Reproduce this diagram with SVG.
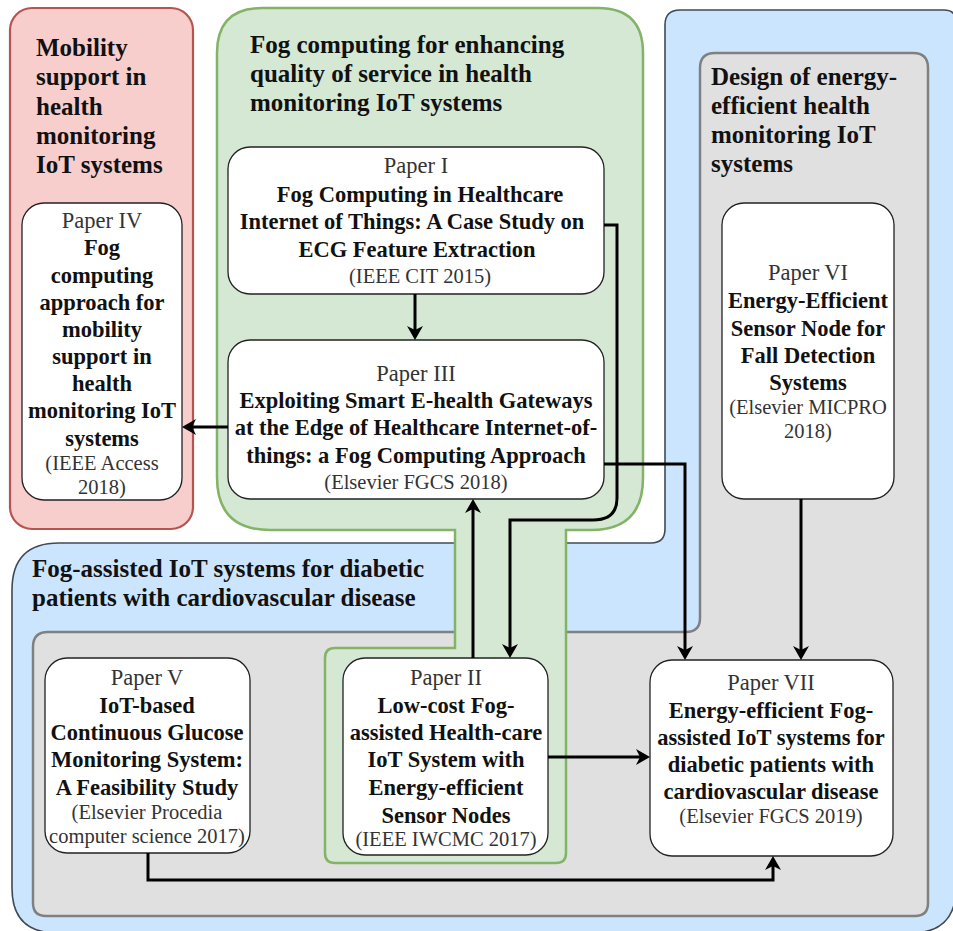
<svg xmlns="http://www.w3.org/2000/svg" width="953" height="931" viewBox="0 0 953 931">
  <style>
    text { font-family: "Liberation Serif", "Times New Roman", serif; }
    .title { font-size: 25px; font-weight: bold; fill: #111; }
    .node rect { fill: #ffffff; stroke: #222; stroke-width: 1.3; }
    .node text { text-anchor: middle; }
    .lbl { font-size: 22.5px; fill: #333; }
    .bt { font-size: 22.5px; font-weight: bold; fill: #111; }
    .cite { font-size: 20.5px; fill: #333; }
    .edge { fill: none; stroke: #000; stroke-width: 3; marker-end: url(#arrow); }
  </style>
  <defs>
    <marker id="arrow" markerUnits="userSpaceOnUse" viewBox="0 0 14 16" refX="4" refY="8" markerWidth="14" markerHeight="16" orient="auto">
      <path d="M0,0 L14,8 L0,16 L4,8 Z" fill="#000"/>
    </marker>
  </defs>

  <!-- background -->
  <rect width="953" height="931" fill="#ffffff"/>

  <!-- groups (regions) -->
  <g id="region-diabetic">
    <path d="M 680,10 H 944 Q 956,10 956,22 V 888 Q 956,933 911,933 H 57 Q 12,933 12,888 V 590 Q 12,543 59,543 H 651 Q 665,543 665,529 V 25 Q 665,10 680,10 Z" fill="#cce5ff" stroke="#3f4a55" stroke-width="1.6"/>
    <text class="title" x="32" y="577">Fog-assisted IoT systems for diabetic</text>
    <text class="title" x="32" y="606">patients with cardiovascular disease</text>
  </g>

  <g id="region-energy">
    <path d="M 715,53 H 913 Q 928,53 928,68 V 903 Q 928,916 915,916 H 46 Q 33,916 33,903 V 647 Q 33,632 48,632 H 686 Q 700,632 700,618 V 68 Q 700,53 715,53 Z" fill="#e0e0e0" stroke="#808080" stroke-width="2.5"/>
    <text class="title" x="711" y="85">Design of energy-</text>
    <text class="title" x="711" y="114">efficient health</text>
    <text class="title" x="711" y="143">monitoring IoT</text>
    <text class="title" x="711" y="172">systems</text>
  </g>

  <g id="region-qos">
    <path d="M 262,8 H 598 Q 643,8 643,53 V 478 Q 643,530 591,530 H 566 V 853 Q 566,863 556,863 H 335 Q 325,863 325,853 V 658 Q 325,648 335,648 H 455 V 530 H 270 Q 217,530 217,477 V 53 Q 217,8 262,8 Z" fill="#d5e8d4" stroke="#82b366" stroke-width="2.5"/>
    <text class="title" x="250" y="53">Fog computing for enhancing</text>
    <text class="title" x="250" y="82">quality of service in health</text>
    <text class="title" x="250" y="111">monitoring IoT systems</text>
  </g>

  <g id="region-mobility">
    <rect x="10" y="8" width="183" height="521" rx="22" fill="#f8cecc" stroke="#b85450" stroke-width="2.2"/>
    <text class="title" x="36" y="56">Mobility</text>
    <text class="title" x="36" y="85">support in</text>
    <text class="title" x="36" y="115">health</text>
    <text class="title" x="36" y="144">monitoring</text>
    <text class="title" x="36" y="173">IoT systems</text>
  </g>

  <!-- papers -->
  <g id="paper-1" class="node">
    <rect x="228" y="147" width="376" height="147" rx="22"/>
    <text class="lbl" x="416" y="173">Paper I</text>
    <text class="bt" x="420" y="202">Fog Computing in Healthcare</text>
    <text class="bt" x="412" y="229">Internet of Things: A Case Study on</text>
    <text class="bt" x="417" y="257">ECG Feature Extraction</text>
    <text class="cite" x="420" y="283">(IEEE CIT 2015)</text>
  </g>

  <g id="paper-3" class="node">
    <rect x="228" y="340" width="376" height="159" rx="22"/>
    <text class="lbl" x="416" y="381">Paper III</text>
    <text class="bt" x="416" y="408">Exploiting Smart E-health Gateways</text>
    <text class="bt" x="416" y="435">at the Edge of Healthcare Internet-of-</text>
    <text class="bt" x="416" y="463">things: a Fog Computing Approach</text>
    <text class="cite" x="416" y="489">(Elsevier FGCS 2018)</text>
  </g>

  <g id="paper-4" class="node">
    <rect x="22" y="203" width="160" height="297" rx="22"/>
    <text class="lbl" x="102" y="228">Paper IV</text>
    <text class="bt" x="102" y="255">Fog</text>
    <text class="bt" x="102" y="283">computing</text>
    <text class="bt" x="102" y="310">approach for</text>
    <text class="bt" x="102" y="337">mobility</text>
    <text class="bt" x="102" y="364">support in</text>
    <text class="bt" x="102" y="391">health</text>
    <text class="bt" x="102" y="418">monitoring IoT</text>
    <text class="bt" x="102" y="446">systems</text>
    <text class="cite" x="102" y="470">(IEEE Access</text>
    <text class="cite" x="102" y="494">2018)</text>
  </g>

  <g id="paper-6" class="node">
    <rect x="722" y="203" width="172" height="296" rx="22"/>
    <text class="lbl" x="808" y="280">Paper VI</text>
    <text class="bt" x="808" y="308">Energy-Efficient</text>
    <text class="bt" x="808" y="336">Sensor Node for</text>
    <text class="bt" x="808" y="363">Fall Detection</text>
    <text class="bt" x="808" y="390">Systems</text>
    <text class="cite" x="808" y="414">(Elsevier MICPRO</text>
    <text class="cite" x="808" y="438">2018)</text>
  </g>

  <g id="paper-5" class="node">
    <rect x="45" y="658" width="205" height="195" rx="22"/>
    <text class="lbl" x="147" y="685">Paper V</text>
    <text class="bt" x="147" y="713">IoT-based</text>
    <text class="bt" x="147" y="740">Continuous Glucose</text>
    <text class="bt" x="147" y="767">Monitoring System:</text>
    <text class="bt" x="147" y="795">A Feasibility Study</text>
    <text class="cite" x="147" y="819">(Elsevier Procedia</text>
    <text class="cite" x="147" y="843">computer science 2017)</text>
  </g>

  <g id="paper-2" class="node">
    <rect x="343" y="658" width="205" height="197" rx="22"/>
    <text class="lbl" x="446" y="685">Paper II</text>
    <text class="bt" x="446" y="713">Low-cost Fog-</text>
    <text class="bt" x="446" y="740">assisted Health-care</text>
    <text class="bt" x="446" y="767">IoT System with</text>
    <text class="bt" x="446" y="795">Energy-efficient</text>
    <text class="bt" x="446" y="823">Sensor Nodes</text>
    <text class="cite" x="446" y="846">(IEEE IWCMC 2017)</text>
  </g>

  <g id="paper-7" class="node">
    <rect x="650" y="660" width="243" height="196" rx="22"/>
    <text class="lbl" x="771" y="690">Paper VII</text>
    <text class="bt" x="771" y="718">Energy-efficient Fog-</text>
    <text class="bt" x="771" y="745">assisted IoT systems for</text>
    <text class="bt" x="771" y="772">diabetic patients with</text>
    <text class="bt" x="771" y="799">cardiovascular disease</text>
    <text class="cite" x="771" y="823">(Elsevier FGCS 2019)</text>
  </g>

  <!-- connectors -->
  <g id="connectors">
    <path class="edge" d="M 415,294 V 330"/>
    <path class="edge" d="M 604,225 H 617 V 498 Q 617,520 593,520 H 510 V 648"/>
    <path class="edge" d="M 604,464 H 685 V 650"/>
    <path class="edge" d="M 228,427 H 192"/>
    <path class="edge" d="M 473,658 V 509"/>
    <path class="edge" d="M 801,499 V 650"/>
    <path class="edge" d="M 548,757 H 640"/>
    <path class="edge" d="M 148,853 V 880 H 773 V 866"/>
  </g>
</svg>
